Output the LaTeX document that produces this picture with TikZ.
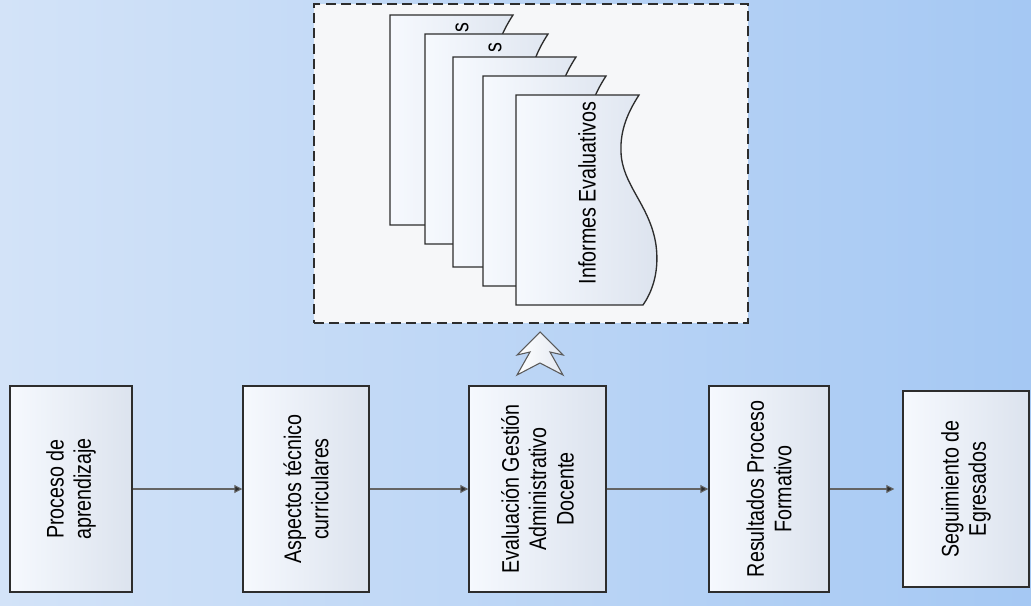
\documentclass[tikz,border=0pt]{standalone}
\usepackage{fontspec}
\setmainfont{Liberation Sans}[FakeStretch=0.82]
\usetikzlibrary{arrows.meta}
\definecolor{bgL}{RGB}{211,227,248}
\definecolor{bgR}{RGB}{165,200,243}
\definecolor{boxL}{RGB}{246,249,254}
\definecolor{boxR}{RGB}{220,227,238}
\definecolor{edge}{RGB}{45,45,45}
\definecolor{frameFill}{RGB}{246,247,249}
\definecolor{conn}{RGB}{100,100,100}
\tikzset{
  stepbox/.style={draw=edge, line width=1.1pt, left color=boxL, right color=boxR, inner sep=0pt},
  lbl/.style={rotate=90, align=center, font=\fontsize{18}{20.5}\selectfont, text=black, inner sep=0pt},
  conn/.style={draw=conn, line width=0.8pt, -{Triangle[length=6pt,width=6pt,fill=edge]}},
  pagefill/.style={draw=edge, line width=1pt, left color=boxL, right color=boxR},
  pg/.pic={
    \path[pagefill] (0,0) -- (123,0) .. controls (112,17) and (104,35) .. (105,57)
      .. controls (106,90) and (134,110) .. (140,150)
      .. controls (144,180) and (134,200) .. (127,210) -- (0,210) -- cycle;
  }
}
\begin{document}
\begin{tikzpicture}[x=0.75pt,y=-0.75pt]
\useasboundingbox (0,0) rectangle (1031,606);
\fill[left color=bgL, right color=bgR] (0,0) rectangle (1031,606);

% dashed frame
\node[draw=edge, dashed, dash pattern=on 7.5pt off 4pt, line width=1.1pt, fill=frameFill,
      minimum width=325.5pt, minimum height=239.25pt, inner sep=0pt] (frame) at (531,163.5) {};

% stacked pages
\pic at (390,15) {pg};
\node[lbl] (s1) at (462,28) {s};
\pic at (425,34) {pg};
\node[lbl] (s2) at (495,48) {s};
\pic at (453,57) {pg};
\pic at (483,76) {pg};
\pic at (516,95) {pg};
\node[lbl] (inf) at (587,193) {Informes Evaluativos};

% up double chevron
\path[draw=conn!90!black, line width=0.8pt, left color=white, right color=boxR!80!white]
  (540,332) -- (563,355) -- (550,352) -- (563,375) -- (540,363) -- (517,375) -- (530,352) -- (517,355) -- cycle;

% process boxes
\node[stepbox, minimum width=91.5pt, minimum height=154.5pt] (b1) at (71,489) {};
\node[lbl] (t1) at (b1) {Proceso de\\aprendizaje};
\node[stepbox, minimum width=94.5pt, minimum height=154.5pt] (b2) at (306,489) {};
\node[lbl] (t2) at (b2) {Aspectos técnico\\curriculares};
\node[stepbox, minimum width=102.75pt, minimum height=154.5pt] (b3) at (537.5,489) {};
\node[lbl] (t3) at (b3) {Evaluación Gestión\\Administrativo\\Docente};
\node[stepbox, minimum width=90pt, minimum height=154.5pt] (b4) at (769,489) {};
\node[lbl] (t4) at (b4) {Resultados Proceso\\Formativo};
\node[stepbox, minimum width=94.5pt, minimum height=147pt] (b5) at (966,489) {};
\node[lbl] (t5) at (b5) {Seguimiento de\\Egresados};

\draw[conn] (b1.east) -- (b2.west);
\draw[conn] (b2.east) -- (b3.west);
\draw[conn] (b3.east) -- (b4.west);
\draw[conn, shorten >=6pt] (b4.east) -- (b5.west);
\end{tikzpicture}
\end{document}
